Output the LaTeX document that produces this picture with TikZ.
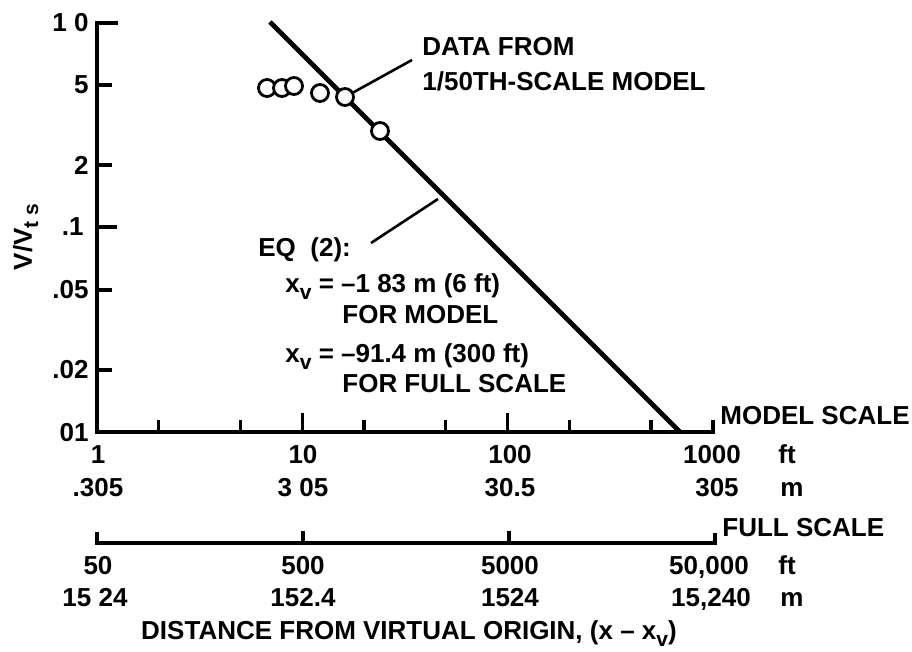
\documentclass[tikz,border=0pt]{standalone}
\usepackage{fontspec}
\setmainfont{Liberation Sans}
\usetikzlibrary{positioning}
\newcommand{\lowsub}[1]{\raisebox{-0.45ex}{\fontsize{10.5}{12}\selectfont #1}}
\tikzset{
    every node/.style={inner sep=0pt, font=\bfseries\fontsize{13}{15}\selectfont},
    axisline/.style={line width=1.6pt},
    curve/.style={line width=2.4pt},
    lead/.style={line width=1.3pt},
    datapt/.style={circle, draw, fill=white, line width=1.4pt, minimum size=8.5pt},
    ticklbl/.style={anchor=base},
    ylbl/.style={anchor=east},
    txt/.style={anchor=base west},
}

\begin{document}
\begin{tikzpicture}[x=0.5pt, y=-0.5pt]
    \useasboundingbox (0,0) rectangle (912,652);

    % axes of the model scale
    \draw[axisline] (118,23) -- (97,23) -- (97,432) -- (713,432) -- (713,420);
    \foreach \y/\e in {85/112, 165/112, 227/117, 290/112, 370/112}
        \draw[axisline] (97,\y) -- (\e,\y);
    \foreach \v in {2,5,20,50,200,500}
        \draw[axisline] ({97+205.3*log10(\v)},432) -- ++(0,-12);
    \foreach \v in {10,100}
        \draw[axisline] ({97+205.3*log10(\v)},432) -- ++(0,-19);

    % full scale
    \draw[axisline] (97,532) -- (97,543) -- (715,543) -- (715,533);
    \foreach \x in {303,509}
        \draw[axisline] (\x,543) -- ++(0,-12);

    % y labels
    \foreach \y/\t [count=\i] in {23/1 0, 85/5, 165/2, 290/.05, 370/.02, 433/01}
        \node[ylbl] (ly\i) at (89,\y) {\t};
    \node[ylbl] (lyten) at (84,227) {.1};
    \node[rotate=90, anchor=base] (vlab) at (32,237) {V/V\lowsub{t s}};

    % x labels
    \foreach \x/\t [count=\i] in {98/1, 303/10, 510/100, 712/1000}
        \node[ticklbl] (mft\i) at (\x,464) {\t};
    \foreach \x/\t [count=\i] in {98/.305, 303/3 05, 510/30.5, 717/305}
        \node[ticklbl] (mm\i) at (\x,497) {\t};
    \node[txt] (mftu) at (778,464) {ft};
    \node[txt] (mmu) at (780,497) {m};
    \node[txt] (mscale) at (720,425) {MODEL SCALE};

    \foreach \x/\t [count=\i] in {98/50, 303/500, 510/5000, 709/{50,000}}
        \node[ticklbl] (fft\i) at (\x,575) {\t};
    \foreach \x/\t [count=\i] in {95/15 24, 303/152.4, 510/1524, 711/{15,240}}
        \node[ticklbl] (fm\i) at (\x,607) {\t};
    \node[txt] (fftu) at (778,575) {ft};
    \node[txt] (fmu) at (780,607) {m};
    \node[txt] (fscale) at (722,537) {FULL SCALE};

    \node[ticklbl] (dist) at (409,640) {DISTANCE FROM VIRTUAL ORIGIN, (x – x\lowsub{v})};

    % eq (2) line and data
    \coordinate (ltop) at (270,22);
    \coordinate (lbot) at (680,432);
    \draw[curve] (ltop) -- (lbot);
    \foreach \x/\y [count=\i] in {267/88, 282/88, 294/86, 320/93, 345/97, 380/131}
        \node[datapt] (d\i) at (\x,\y) {};

    \node[txt] (data1) at (422,56) {DATA FROM};
    \node[txt] (data2) at (422,91) {1/50TH-SCALE MODEL};
    \coordinate (dataend) at (412,60);
    \draw[lead] (d5) -- (dataend);

    \node[txt] (eq1) at (258,257) {EQ\ \ (2):};
    \node[txt] (eq2) at (285,293) {x\lowsub{v} = –1 83 m (6 ft)};
    \node[txt] (eq3) at (342,324) {FOR MODEL};
    \node[txt] (eq4) at (285,363) {x\lowsub{v} = –91.4 m (300 ft)};
    \node[txt] (eq5) at (342,393) {FOR FULL SCALE};
    \coordinate (eqstart) at (371,243);
    \coordinate (eqend) at (438,199);
    \draw[lead] (eqstart) -- (eqend);
\end{tikzpicture}
\end{document}
